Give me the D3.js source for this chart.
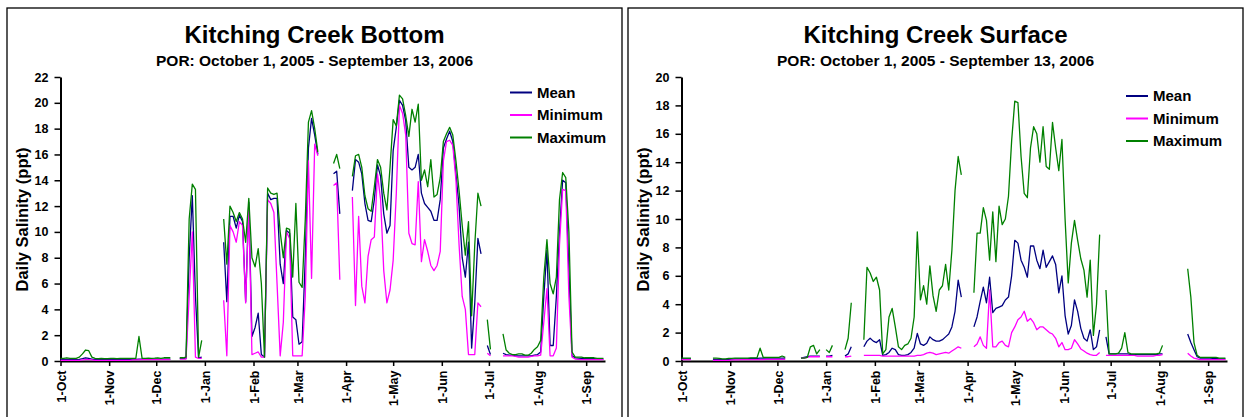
<!DOCTYPE html>
<html>
<head>
<meta charset="utf-8">
<script src="https://cdn.jsdelivr.net/npm/d3@7"></script>
<style>
  body { margin: 0; background: #fff; }
  svg { display: block; font-family: "Liberation Sans", Arial, sans-serif; }
</style>
</head>
<body>
<svg id="chart" width="1244" height="417"></svg>
<script>
// one sample every second day, starting 1-Oct-2005
const startDate = new Date(Date.UTC(2005, 9, 1));
const endDate = new Date(Date.UTC(2006, 8, 13));
const sampleDays = d3.range(0, 347, 2);
const monthTicks = [
  [2005, 9], [2005, 10], [2005, 11], [2006, 0], [2006, 1], [2006, 2],
  [2006, 3], [2006, 4], [2006, 5], [2006, 6], [2006, 7], [2006, 8]
];
const seriesNames = ['Mean', 'Minimum', 'Maximum'];
const seriesColors = ['#000080', '#ff00ff', '#008000'];
const subtitle = 'POR: October 1, 2005 - September 13, 2006';

// Kitching Creek Bottom (ppt)
const bottomMean = [
  0.12, 0.12, 0.12, 0.12, 0.1, 0.1, 0.12, 0.18, 0.25, 0.2,
  0.15, 0.1, 0.1, 0.1, 0.1, 0.1, 0.1, 0.1, 0.1, 0.1,
  0.1, 0.1, 0.1, 0.12, 0.12, 0.15, 0.15, 0.15, 0.15, 0.15,
  0.15, 0.15, 0.15, 0.15, 0.15, 0.15, null, null, 0.2, 0.2,
  0.2, 8.0, 12.8, 5.0, 0.25, 0.3, null, null, null, null,
  null, null, 9.2, 4.6, 11.2, 11.2, 10.3, 11.3, 10.8, 4.6,
  12.3, 1.9, 2.6, 3.7, 0.5, 0.3, 13.0, 12.5, 12.6, 12.6,
  7.5, 6.0, 10.1, 9.9, 3.4, 3.2, 1.3, 1.5, 8.0, 16.5,
  18.8, 17.5, 16.0, null, null, null, null, 14.5, 14.7, 11.4,
  null, null, null, 13.2, 15.6, 15.4, 14.5, 12.2, 10.9, 10.8,
  12.5, 15.2, 14.3, 11.4, 9.9, 10.5, 16.3, 18.1, 20.2, 19.8,
  18.6, 15.0, 14.8, 15.0, 16.0, 13.0, 12.2, 11.9, 11.6, 10.9,
  10.9, 12.5, 16.5, 17.2, 17.8, 17.0, 14.5, 12.0, 8.0, 6.5,
  9.2, 1.0, 4.5, 9.5, 8.3, null, 1.2, 0.5, null, null,
  null, 0.6, 0.5, 0.45, 0.45, 0.4, 0.4, 0.4, 0.4, 0.4,
  0.4, 0.45, 0.5, 0.7, 5.0, 8.6, 1.2, 1.2, 5.0, 10.0,
  14.0, 13.8, 7.0, 0.4, 0.25, 0.22, 0.2, 0.2, 0.18, 0.18,
  0.18, 0.15, 0.15, 0.15
];
const bottomMin = [
  0.05, 0.05, 0.05, 0.05, 0.05, 0.05, 0.05, 0.08, 0.1, 0.1,
  0.08, 0.05, 0.05, 0.05, 0.05, 0.05, 0.05, 0.05, 0.05, 0.05,
  0.05, 0.05, 0.05, 0.08, 0.08, 0.08, 0.1, 0.1, 0.1, 0.1,
  0.1, 0.1, 0.1, 0.1, 0.1, 0.1, null, null, 0.15, 0.15,
  0.15, 5.0, 10.0, 0.3, 0.2, 0.2, null, null, null, null,
  null, null, 4.7, 0.4, 10.5, 10.0, 9.2, 10.8, 10.5, 4.5,
  12.0, 0.5, 0.6, 0.7, 0.3, 0.3, 12.5, 12.2, 11.5, 6.0,
  0.4, 3.0, 10.0, 9.5, 0.4, 0.4, 0.4, 0.4, 5.0, 15.5,
  6.4, 16.8, 15.9, null, null, null, null, 13.6, 13.8, 6.3,
  null, null, null, 12.7, 4.3, 11.2, 5.8, 4.5, 8.1, 9.4,
  9.6, 14.5, 12.5, 7.0, 4.5, 5.5, 7.8, 13.0, 19.8, 19.2,
  17.5, 9.9, 9.1, 9.0, 13.9, 7.7, 9.4, 8.5, 7.4, 7.0,
  7.4, 8.5, 15.5, 17.0, 17.1, 16.7, 14.0, 9.0, 5.0, 4.0,
  0.5, 0.5, 0.5, 4.5, 4.2, null, 0.6, 0.4, null, null,
  null, 0.4, 0.4, 0.4, 0.4, 0.35, 0.3, 0.3, 0.3, 0.3,
  0.35, 0.4, 0.4, 0.45, 3.0, 5.6, 0.4, 0.4, 1.0, 9.0,
  13.3, 13.2, 5.0, 0.3, 0.15, 0.12, 0.1, 0.1, 0.1, 0.1,
  0.1, 0.1, 0.1, 0.1
];
const bottomMax = [
  0.2, 0.2, 0.25, 0.2, 0.2, 0.2, 0.3, 0.55, 0.85, 0.8,
  0.3, 0.2, 0.18, 0.2, 0.18, 0.18, 0.2, 0.2, 0.18, 0.2,
  0.2, 0.2, 0.2, 0.2, 0.2, 1.9, 0.2, 0.2, 0.22, 0.2,
  0.22, 0.25, 0.2, 0.25, 0.25, 0.25, null, null, 0.25, 0.25,
  0.3, 11.0, 13.7, 13.3, 0.3, 1.6, null, null, null, null,
  null, null, 11.0, 7.5, 12.0, 11.5, 10.8, 11.5, 11.0, 9.2,
  12.6, 8.0, 7.3, 8.7, 6.0, 0.3, 13.4, 13.0, 12.9, 13.0,
  10.0, 8.0, 10.3, 10.2, 6.5, 12.2, 6.1, 5.7, 11.0, 18.5,
  19.4, 18.0, 16.2, null, null, null, null, 15.3, 16.0, 14.9,
  null, null, null, 14.3, 15.9, 16.0, 15.0, 12.8, 11.8, 11.6,
  13.5, 15.6, 15.0, 13.0, 11.7, 15.0, 18.7, 18.2, 20.6, 20.3,
  19.0, 17.4, 19.5, 18.5, 19.9, 14.0, 14.8, 13.5, 15.6, 12.7,
  12.9, 14.2, 17.0, 17.6, 18.1, 17.5, 15.5, 13.2, 10.5, 8.2,
  10.8, 3.5, 9.0, 13.0, 12.0, null, 3.2, 0.9, null, null,
  null, 2.1, 0.85, 0.6, 0.5, 0.5, 0.55, 0.55, 0.45, 0.45,
  0.6, 0.9, 1.1, 1.6, 6.5, 9.4, 6.0, 5.2, 6.5, 12.5,
  14.6, 14.2, 10.0, 0.7, 0.3, 0.3, 0.3, 0.25, 0.25, 0.25,
  0.25, 0.2, 0.2, 0.2
];

// Kitching Creek Surface (ppt)
const surfaceMean = [
  0.15, 0.15, 0.15, 0.15, null, null, null, null, null, null,
  0.12, 0.12, 0.1, 0.1, 0.1, 0.12, 0.12, 0.15, 0.15, 0.15,
  0.15, 0.15, 0.18, 0.18, 0.18, 0.2, 0.2, 0.2, 0.2, 0.2,
  0.2, 0.2, 0.2, 0.2, null, null, null, null, 0.2, 0.25,
  0.3, 0.35, 0.35, 0.35, 0.35, null, 0.35, 0.35, 0.4, null,
  null, null, 0.35, 0.5, 1.0, null, null, null, 1.0, 1.4,
  1.6, 1.4, 1.3, 1.5, 0.4, 0.45, 0.6, 0.9, 0.8, 0.45,
  0.4, 0.4, 0.45, 0.6, 0.9, 1.95, 1.2, 1.1, 1.25, 1.7,
  1.5, 1.4, 1.4, 1.5, 1.7, 1.9, 2.4, 3.5, 5.7, 4.5,
  null, null, null, 2.4, 3.1, 4.2, 5.2, 4.1, 5.9, 3.4,
  3.7, 3.8, 3.9, 4.3, 4.5, 6.0, 8.5, 8.3, 7.1, 6.6,
  5.9, 8.1, 8.1, 7.1, 6.5, 7.8, 6.6, 7.0, 7.4, 6.8,
  4.8, 6.0, 3.2, 1.9, 2.5, 4.3, 3.5, 2.3, 1.6, 1.4,
  2.2, 0.8, 1.0, 2.2, null, 1.7, 0.5, 0.5, 0.5, 0.5,
  0.5, 0.5, 0.5, 0.45, 0.45, 0.45, 0.45, 0.45, 0.45, 0.45,
  0.45, 0.45, 0.5, 0.5, null, null, null, null, null, null,
  null, 1.9, 1.3, 0.8, 0.3, 0.2, 0.2, 0.2, 0.2, 0.18,
  0.18, 0.15, 0.15, 0.15
];
const surfaceMin = [
  0.1, 0.1, 0.1, 0.1, null, null, null, null, null, null,
  0.05, 0.05, 0.05, 0.05, 0.05, 0.05, 0.08, 0.08, 0.08, 0.1,
  0.1, 0.1, 0.1, 0.1, 0.1, 0.1, 0.1, 0.12, 0.12, 0.12,
  0.12, 0.12, 0.12, 0.12, null, null, null, null, 0.2, 0.2,
  0.25, 0.3, 0.3, 0.3, 0.3, null, 0.3, 0.3, 0.3, null,
  null, null, 0.3, 0.3, 0.35, null, null, null, 0.4, 0.4,
  0.4, 0.4, 0.4, 0.4, 0.35, 0.35, 0.35, 0.35, 0.35, 0.35,
  0.35, 0.35, 0.35, 0.35, 0.35, 0.4, 0.4, 0.45, 0.55, 0.6,
  0.55, 0.45, 0.5, 0.55, 0.6, 0.55, 0.7, 0.85, 1.0, 0.9,
  null, null, null, 1.0, 1.2, 1.7, 1.1, 0.9, 5.0, 1.0,
  1.0, 1.3, 1.4, 1.1, 1.0, 2.0, 2.4, 2.9, 3.1, 3.5,
  2.8, 3.0, 2.7, 2.2, 2.4, 2.4, 2.2, 2.0, 1.9, 1.6,
  1.0, 1.3, 0.8, 0.8, 0.9, 1.5, 1.2, 0.85, 0.7, 0.55,
  0.45, 0.4, 0.4, 0.6, null, 0.4, 0.4, 0.4, 0.4, 0.4,
  0.4, 0.4, 0.4, 0.4, 0.4, 0.35, 0.35, 0.35, 0.35, 0.35,
  0.35, 0.4, 0.4, 0.45, null, null, null, null, null, null,
  null, 0.55, 0.35, 0.2, 0.15, 0.1, 0.1, 0.1, 0.1, 0.1,
  0.1, 0.1, 0.1, 0.1
];
const surfaceMax = [
  0.2, 0.2, 0.2, 0.2, null, null, null, null, null, null,
  0.2, 0.2, 0.18, 0.15, 0.15, 0.18, 0.18, 0.2, 0.2, 0.2,
  0.2, 0.2, 0.22, 0.22, 0.22, 0.9, 0.25, 0.25, 0.25, 0.25,
  0.25, 0.25, 0.35, 0.25, null, null, null, null, 0.2, 0.2,
  0.25, 1.0, 1.1, 0.5, 0.8, null, 0.8, 0.6, 1.1, null,
  null, null, 0.8, 1.6, 4.1, null, null, null, 1.5, 6.6,
  6.2, 5.6, 5.9, 5.0, 0.5, 0.8, 3.1, 3.7, 2.4, 1.0,
  0.8, 1.1, 1.2, 1.6, 3.1, 9.1, 4.3, 5.3, 4.0, 6.7,
  4.6, 3.5, 5.0, 5.3, 6.8, 5.0, 7.8, 12.0, 14.4, 13.1,
  null, null, null, 4.8, 9.0, 9.0, 10.8, 9.9, 7.1, 10.5,
  7.0, 10.9, 9.6, 10.0, 11.6, 15.5, 18.3, 18.2, 14.4, 11.8,
  11.5, 15.0, 16.5, 16.0, 14.0, 16.5, 13.7, 13.5, 16.8, 15.0,
  13.4, 15.6, 10.0, 5.5, 8.3, 9.9, 8.5, 7.2, 6.4, 4.5,
  7.1, 1.8, 4.0, 8.9, null, 5.0, 0.5, 0.5, 0.5, 0.55,
  0.9, 2.0, 0.6, 0.5, 0.5, 0.5, 0.5, 0.5, 0.5, 0.5,
  0.5, 0.5, 0.55, 1.1, null, null, null, null, null, null,
  null, 6.5, 4.5, 1.3, 0.4, 0.25, 0.25, 0.25, 0.25, 0.25,
  0.25, 0.2, 0.2, 0.2
];

const panels = [
  {
    title: 'Kitching Creek Bottom',
    box: { x: 7, y: 8, w: 615 },
    plot: { left: 60.5, right: 605, top: 77, bottom: 361 },
    yMax: 22,
    values: [bottomMean, bottomMin, bottomMax],
    legend: { x: 510, y: 92.5 }
  },
  {
    title: 'Kitching Creek Surface',
    box: { x: 628, y: 8, w: 615 },
    plot: { left: 681.5, right: 1227, top: 77, bottom: 361 },
    yMax: 20,
    values: [surfaceMean, surfaceMin, surfaceMax],
    legend: { x: 1126, y: 96 }
  }
];

const svg = d3.select('#chart');
const dayDate = d => d3.utcDay.offset(startDate, d);

panels.forEach(p => {
  const g = svg.append('g');
  const cx = p.box.x + p.box.w / 2;

  g.append('rect')
    .attr('x', p.box.x)
    .attr('y', p.box.y)
    .attr('width', p.box.w)
    .attr('height', 430)
    .attr('fill', 'none')
    .attr('stroke', '#000')
    .attr('stroke-width', 1.3);

  g.append('text')
    .attr('x', cx)
    .attr('y', 43)
    .attr('text-anchor', 'middle')
    .style('font-size', '24px')
    .style('font-weight', 'bold')
    .text(p.title);

  g.append('text')
    .attr('x', cx)
    .attr('y', 65.5)
    .attr('text-anchor', 'middle')
    .style('font-size', '15.5px')
    .style('font-weight', 'bold')
    .text(subtitle);

  const x = d3.scaleUtc()
    .domain([startDate, endDate])
    .range([p.plot.left, p.plot.right]);
  const y = d3.scaleLinear()
    .domain([0, p.yMax])
    .range([p.plot.bottom, p.plot.top]);

  // y axis
  const yAxis = g.append('g')
    .attr('transform', `translate(${p.plot.left},0)`)
    .call(d3.axisLeft(y)
      .tickValues(d3.range(0, p.yMax + 1, 2))
      .tickSize(6)
      .tickSizeOuter(0)
      .tickPadding(6));
  yAxis.select('.domain').attr('stroke-width', 2);
  yAxis.selectAll('.tick line').attr('stroke-width', 1.5);
  yAxis.selectAll('text')
    .style('font-size', '12.5px')
    .style('font-weight', 'bold')
    .style('font-family', '"Liberation Sans", Arial, sans-serif')
    .attr('fill', '#000');

  // x axis
  const xAxis = g.append('g')
    .attr('transform', `translate(0,${p.plot.bottom})`)
    .call(d3.axisBottom(x)
      .tickValues(monthTicks.map(m => new Date(Date.UTC(m[0], m[1], 1))))
      .tickFormat(d3.utcFormat('%-d-%b'))
      .tickSize(5)
      .tickSizeOuter(0));
  xAxis.select('.domain').attr('stroke-width', 2);
  xAxis.selectAll('.tick line').attr('stroke-width', 1.5);
  xAxis.selectAll('text')
    .attr('transform', 'rotate(-90)')
    .attr('x', -9.5)
    .attr('y', 0)
    .attr('dy', '0.38em')
    .attr('text-anchor', 'end')
    .style('font-size', '12.5px')
    .style('font-weight', 'bold')
    .style('font-family', '"Liberation Sans", Arial, sans-serif')
    .attr('fill', '#000');

  g.append('text')
    .attr('transform', `translate(${p.box.x + 15.5},219.5) rotate(-90)`)
    .attr('text-anchor', 'middle')
    .attr('dy', '0.35em')
    .style('font-size', '16.5px')
    .style('font-weight', 'bold')
    .text('Daily Salinity (ppt)');

  // series lines: mean, minimum, maximum (maximum drawn last)
  const line = d3.line()
    .defined(d => d.v != null)
    .x(d => x(dayDate(d.day)))
    .y(d => y(d.v));

  p.values.forEach((vals, i) => {
    const pts = sampleDays.map((day, k) => ({ day, v: vals[k] }));
    g.append('path')
      .datum(pts)
      .attr('fill', 'none')
      .attr('stroke', seriesColors[i])
      .attr('stroke-width', 1.3)
      .attr('stroke-linejoin', 'round')
      .attr('d', line);
  });

  // legend
  const lg = g.append('g')
    .attr('transform', `translate(${p.legend.x},${p.legend.y})`);
  seriesNames.forEach((name, i) => {
    lg.append('line')
      .attr('x1', 0).attr('x2', 22)
      .attr('y1', i * 22.5).attr('y2', i * 22.5)
      .attr('stroke', seriesColors[i])
      .attr('stroke-width', 2);
    lg.append('text')
      .attr('x', 27)
      .attr('y', i * 22.5)
      .attr('dy', '0.36em')
      .style('font-size', '15px')
      .style('font-weight', 'bold')
      .text(name);
  });
});
</script>
</body>
</html>
